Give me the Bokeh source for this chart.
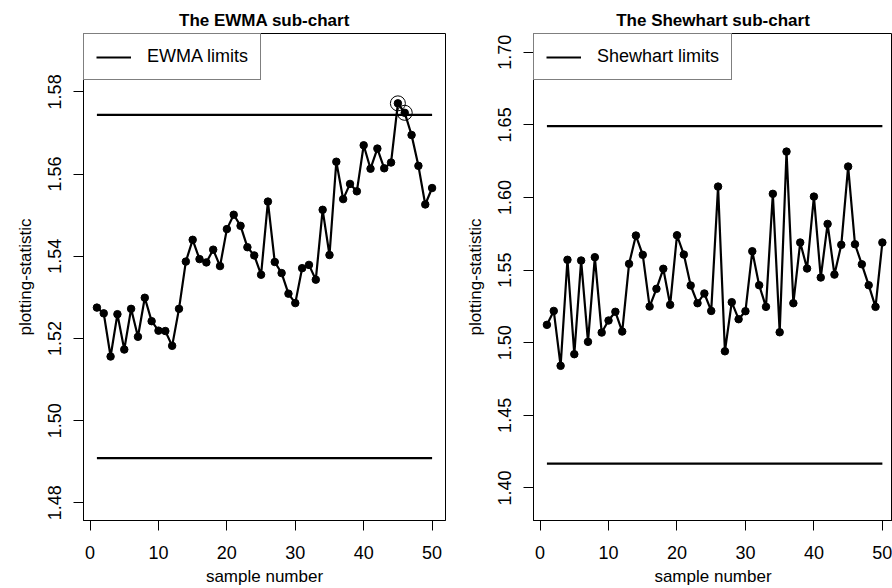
from bokeh.plotting import figure
from bokeh.layouts import row
from bokeh.models import Range1d, FixedTicker
from bokeh.embed import file_html
from bokeh.resources import INLINE

# ---------------- data ----------------
sample = list(range(1, 51))

ewma_stat = [1.5275, 1.5261, 1.5156, 1.5259, 1.5173, 1.5272, 1.5204, 1.5299, 1.5242, 1.5219,
             1.5218, 1.5182, 1.5272, 1.5387, 1.5440, 1.5393, 1.5385, 1.5416, 1.5376, 1.5466,
             1.5501, 1.5474, 1.5422, 1.5402, 1.5355, 1.5533, 1.5386, 1.5359, 1.5309, 1.5286,
             1.5371, 1.5379, 1.5343, 1.5513, 1.5403, 1.5630, 1.5539, 1.5576, 1.5558, 1.5670,
             1.5613, 1.5662, 1.5614, 1.5628, 1.5772, 1.5749, 1.5695, 1.5620, 1.5526, 1.5566]
ewma_ucl = 1.5744
ewma_lcl = 1.4909
ewma_signals = [45, 46]

shew_stat = [1.5123, 1.5219, 1.4841, 1.5571, 1.4921, 1.5566, 1.5006, 1.5589, 1.5070, 1.5153,
             1.5213, 1.5077, 1.5543, 1.5738, 1.5605, 1.5249, 1.5371, 1.5509, 1.5261, 1.5740,
             1.5607, 1.5394, 1.5272, 1.5339, 1.5219, 1.6075, 1.4941, 1.5279, 1.5162, 1.5217,
             1.5630, 1.5396, 1.5247, 1.6025, 1.5072, 1.6316, 1.5272, 1.5690, 1.5511, 1.6006,
             1.5449, 1.5818, 1.5469, 1.5674, 1.6213, 1.5678, 1.5540, 1.5396, 1.5247, 1.5690]
shew_ucl = 1.6491
shew_lcl = 1.4168

x_ticks = [0, 10, 20, 30, 40, 50]
ewma_yticks = [1.48, 1.50, 1.52, 1.54, 1.56, 1.58]
ewma_ytick_labels = ["1.48", "1.50", "1.52", "1.54", "1.56", "1.58"]
shew_yticks = [1.40, 1.45, 1.50, 1.55, 1.60, 1.65, 1.70]
shew_ytick_labels = ["1.40", "1.45", "1.50", "1.55", "1.60", "1.65", "1.70"]

FONT = "Liberation Sans"


def make_panel(title, stat, ucl, lcl, legend_label, yticks, ylabels, xr, yr,
               width, min_left, min_right, signals=None):
    p = figure(width=width, height=588, output_backend="svg", toolbar_location=None,
               x_range=Range1d(*xr), y_range=Range1d(*yr),
               min_border_left=min_left, min_border_right=min_right,
               min_border_top=33, min_border_bottom=68)
    p.title.text = title
    p.title.align = "center"
    p.title.text_font = FONT
    p.title.text_font_size = "17px"
    p.title.text_font_style = "bold"
    p.title.text_color = "black"
    p.title.standoff = 8
    p.xgrid.visible = False
    p.ygrid.visible = False
    p.outline_line_color = "black"
    p.outline_line_width = 1
    p.background_fill_color = "white"
    p.border_fill_color = "white"

    # limits
    p.multi_line(xs=[[sample[0], sample[-1]], [sample[0], sample[-1]]],
                 ys=[[ucl, ucl], [lcl, lcl]], line_color="black", line_width=2.2,
                 legend_label=legend_label)
    # statistic
    p.line(sample, stat, line_color="black", line_width=2.2)
    p.scatter(sample, stat, size=7.5, fill_color="black", line_color="black")
    if signals:
        sx = [sample[i - 1] for i in signals]
        sy = [stat[i - 1] for i in signals]
        p.scatter(sx, sy, size=15, fill_color=None, line_color="black", line_width=1)

    for ax in (p.xaxis[0], p.yaxis[0]):
        ax.axis_line_color = "black"
        ax.axis_line_width = 1
        ax.major_tick_line_color = "black"
        ax.major_tick_out = 10
        ax.major_tick_in = 0
        ax.minor_tick_line_color = None
        ax.major_label_text_font = FONT
        ax.major_label_text_font_size = "18px"
        ax.major_label_text_color = "black"
        ax.axis_label_text_font = FONT
        ax.axis_label_text_font_size = "17px"
        ax.axis_label_text_font_style = "normal"
        ax.axis_label_text_color = "black"

    p.xaxis.ticker = FixedTicker(ticks=x_ticks)
    p.xaxis.axis_label = "sample number"
    p.xaxis.major_label_standoff = 15
    p.xaxis.axis_label_standoff = 5

    p.yaxis.ticker = FixedTicker(ticks=yticks)
    p.yaxis.major_label_overrides = {t: l for t, l in zip(yticks, ylabels)}
    p.yaxis.major_label_orientation = "parallel"
    p.yaxis.axis_label = "plotting-statistic"
    p.yaxis.major_label_standoff = 12
    p.yaxis.axis_label_standoff = 11

    lg = p.legend[0]
    lg.location = "top_left"
    lg.margin = 0
    lg.padding = 12
    lg.spacing = 0
    lg.glyph_width = 35
    lg.glyph_height = 20
    lg.label_standoff = 16
    lg.label_text_font = FONT
    lg.label_text_font_size = "18px"
    lg.label_text_color = "black"
    lg.border_line_color = "black"
    lg.border_line_width = 1
    lg.background_fill_color = "white"
    lg.background_fill_alpha = 1
    return p


p1 = make_panel("The EWMA sub-chart", ewma_stat, ewma_ucl, ewma_lcl, "EWMA limits",
                ewma_yticks, ewma_ytick_labels, (-0.96, 51.96), (1.4757, 1.5942),
                width=453, min_left=83, min_right=8, signals=ewma_signals)
p2 = make_panel("The Shewhart sub-chart", shew_stat, shew_ucl, shew_lcl, "Shewhart limits",
                shew_yticks, shew_ytick_labels, (-0.96, 51.48), (1.3776, 1.7129),
                width=439, min_left=80, min_right=0)

layout = row(p1, p2)
open("out.html", "w").write(file_html(layout, INLINE))
